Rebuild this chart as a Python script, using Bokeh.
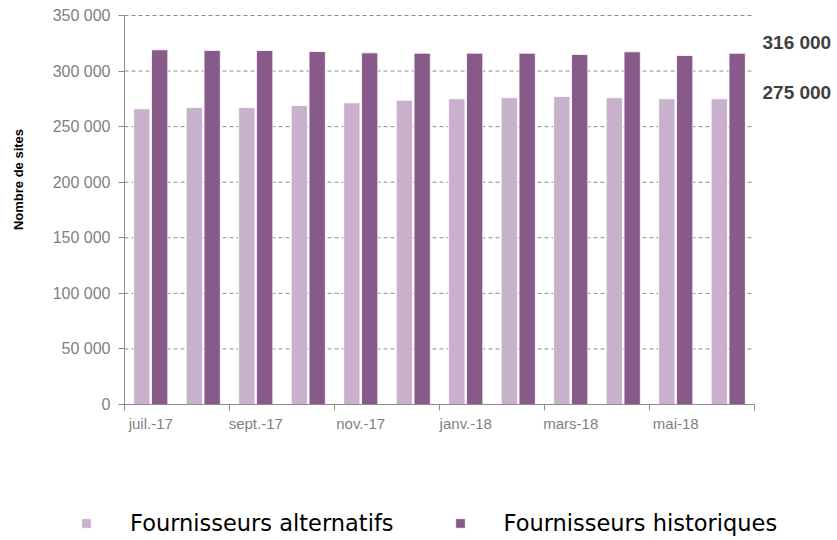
from bokeh.plotting import figure
from bokeh.models import (ColumnDataSource, FixedTicker, LinearAxis, Label, LabelSet,
                          Legend, LegendItem, Range1d)
from bokeh.core.properties import value
from bokeh.embed import file_html
from bokeh.resources import INLINE
from math import pi

months = ["juil.-17", "août-17", "sept.-17", "oct.-17", "nov.-17", "déc.-17",
          "janv.-18", "févr.-18", "mars-18", "avr.-18", "mai-18", "juin-18"]
alternatifs = [266000, 267200, 267200, 269000, 271400, 273800,
               275000, 276000, 277100, 276000, 275000, 275000]
historiques = [319100, 318500, 318500, 317600, 316400, 316100,
               316100, 316100, 314900, 317300, 314000, 316000]
y_ticks = [0, 50000, 100000, 150000, 200000, 250000, 300000, 350000]
y_labels = ["0", "50 000", "100 000", "150 000", "200 000", "250 000", "300 000", "350 000"]
x_label_months = ["juil.-17", "sept.-17", "nov.-17", "janv.-18", "mars-18", "mai-18"]
series_names = ["Fournisseurs alternatifs", "Fournisseurs historiques"]
end_labels = ["316 000", "275 000"]

C_ALT = "#C9B1CD"
C_HIST = "#875A8A"
FONT = "Liberation Sans"
GRAY = "#7F7F7F"
GRID = "#8C8C8C"

# layout (pixels): the whole canvas is the plotting frame; the bar area sits inside it
W, H = 837, 540
AREA_LEFT, AREA_RIGHT, AREA_TOP, AREA_BOTTOM = 124, 754, 15, 404
n = len(months)
y_max = y_ticks[-1]
x_per_px = n / (AREA_RIGHT - AREA_LEFT)
y_per_px = y_max / (AREA_BOTTOM - AREA_TOP)
x_start, x_end = -AREA_LEFT * x_per_px, (W - AREA_LEFT) * x_per_px
y_start, y_end = -(H - AREA_BOTTOM) * y_per_px, y_max + AREA_TOP * y_per_px

idx = list(range(n))
src = ColumnDataSource(dict(
    x_alt=[i + 0.5 - 0.17 for i in idx],
    x_hist=[i + 0.5 + 0.17 for i in idx],
    alt=alternatifs, hist=historiques, month=months))

p = figure(width=W, height=H, output_backend="svg", toolbar_location=None,
           x_range=Range1d(x_start, x_end), y_range=Range1d(y_start, y_end),
           min_border=0)
p.outline_line_color = None
p.background_fill_color = "white"
p.border_fill_color = "white"
p.xgrid.grid_line_color = None
p.ygrid.grid_line_color = None

# dashed horizontal grid lines across the bar area
grid_y = [t for t in y_ticks if t > 0]
p.segment(x0=[0] * len(grid_y), x1=[n] * len(grid_y), y0=grid_y, y1=grid_y,
          line_color=GRID, line_dash="4 3", line_width=1)

r_alt = p.vbar(x="x_alt", top="alt", width=0.31, source=src, fill_color=C_ALT,
               line_color="white", line_width=0.8)
r_hist = p.vbar(x="x_hist", top="hist", width=0.31, source=src, fill_color=C_HIST,
                line_color="white", line_width=0.8)

# y axis, drawn at x = 0
yax = p.yaxis[0]
yax.fixed_location = 0
yax.bounds = (0, y_max)
yax.ticker = FixedTicker(ticks=y_ticks)
yax.major_label_overrides = {t: l for t, l in zip(y_ticks, y_labels)}
yax.major_label_text_font = FONT
yax.major_label_text_font_size = "16px"
yax.major_label_text_color = GRAY
yax.axis_line_color = GRID
yax.major_tick_line_color = GRID
yax.major_tick_out = 6
yax.major_tick_in = 0
yax.minor_tick_line_color = None
yax.major_label_standoff = 8

# x axis, drawn at y = 0: boundary ticks
xax = p.xaxis[0]
bounds = [i for i in range(0, n + 1, 2)]
xax.fixed_location = 0
xax.bounds = (0, n)
xax.ticker = FixedTicker(ticks=bounds)
xax.major_label_overrides = {b: "" for b in bounds}
xax.major_label_text_font_size = "1px"
xax.axis_line_color = GRID
xax.major_tick_line_color = GRID
xax.major_tick_out = 6
xax.major_tick_in = 0
xax.minor_tick_line_color = None

# x axis labels at category centres
centers = [months.index(m) + 0.5 for m in x_label_months]
lab_ax = LinearAxis(fixed_location=0, bounds=(0, n), ticker=FixedTicker(ticks=centers),
                    major_label_overrides={c: m for c, m in zip(centers, x_label_months)})
lab_ax.axis_line_color = None
lab_ax.major_tick_line_color = None
lab_ax.minor_tick_line_color = None
lab_ax.major_label_text_font = FONT
lab_ax.major_label_text_font_size = "15px"
lab_ax.major_label_text_color = GRAY
lab_ax.major_label_standoff = 4
p.add_layout(lab_ax, "below")

# y axis title
p.add_layout(Label(x=(18 - AREA_LEFT) * x_per_px, y=(AREA_BOTTOM - 179) * y_per_px,
                   text="Nombre de sites", angle=pi / 2, text_align="center",
                   text_baseline="middle", text_font=FONT, text_font_style="bold",
                   text_font_size="13px", text_color="#000000"))

# end labels
end_src = ColumnDataSource(dict(x=[n, n], y=[historiques[-1], alternatifs[-1]],
                                text=end_labels, dy=[11, 6]))
p.add_layout(LabelSet(x="x", y="y", text="text", x_offset=8, y_offset="dy",
                      source=end_src, text_baseline="middle", text_font=value(FONT),
                      text_font_style="bold", text_font_size="19px",
                      text_color="#404040"))

legend = Legend(items=[LegendItem(label=series_names[0], renderers=[r_alt]),
                       LegendItem(label=series_names[1], renderers=[r_hist])],
                orientation="horizontal", location=(80, 4),
                glyph_width=12, glyph_height=12, label_standoff=38, spacing=60,
                padding=0, margin=0, border_line_color=None,
                background_fill_alpha=0,
                label_text_font="DejaVu Sans", label_text_font_size="22.5px",
                label_text_color="#000000")
p.add_layout(legend, "center")

open("out.html", "w").write(file_html(p, INLINE))
